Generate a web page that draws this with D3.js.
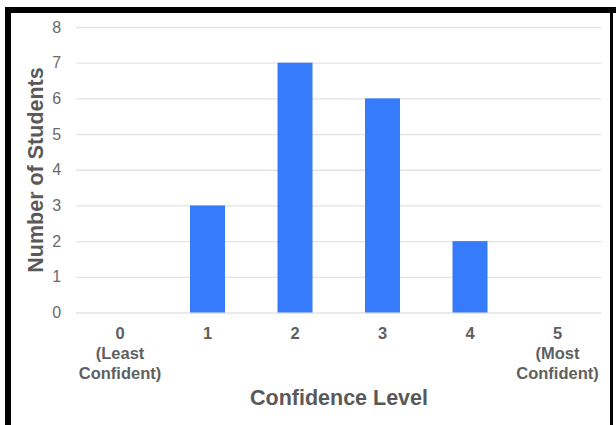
<!DOCTYPE html>
<html>
<head>
<meta charset="utf-8">
<script src="https://cdn.jsdelivr.net/npm/d3@7"></script>
<style>
  html, body { margin: 0; padding: 0; background: #fff; }
  svg { display: block; }
</style>
</head>
<body>
<svg id="chart" width="616" height="425"></svg>
<script>
// Confidence survey: how many students picked each level
const levels = ["0", "1", "2", "3", "4", "5"];
const levelNotes = [["(Least", "Confident)"], [], [], [], [], ["(Most", "Confident)"]];
const students = [0, 3, 7, 6, 2, 0];
const yTicks = [0, 1, 2, 3, 4, 5, 6, 7, 8];

const svg = d3.select("#chart");
const W = 616, H = 425;
const font = "'Liberation Sans', Arial, sans-serif";

// frame
svg.append("rect").attr("x", 0).attr("y", 0).attr("width", W).attr("height", H).attr("fill", "#fff");
svg.append("rect").attr("x", 5).attr("y", 7).attr("width", W - 5).attr("height", 6).attr("fill", "#000");
svg.append("rect").attr("x", 5).attr("y", 7).attr("width", 6).attr("height", H - 7).attr("fill", "#000");
svg.append("rect").attr("x", 610).attr("y", 7).attr("width", 3).attr("height", H - 7).attr("fill", "#000");

const x = d3.scaleBand().domain(levels).range([76.25, 601.25]).paddingInner(0.6).paddingOuter(0.3);
const y = d3.scaleLinear().domain([0, 8]).range([312.5, 27]);

// horizontal gridlines
const yAxis = d3.axisLeft(y).tickValues(yTicks).tickSize(-(601.25 - 76.25)).tickPadding(15).tickFormat(d3.format("d"));
const gy = svg.append("g").attr("transform", "translate(76.25,0)").call(yAxis);
gy.select(".domain").remove();
gy.selectAll(".tick line").attr("stroke", "#e3e3e3").attr("stroke-width", 1.3);
gy.selectAll(".tick text")
  .attr("fill", "#6a6a6a")
  .style("font-family", font)
  .style("font-size", "16px");

// bars
svg.append("g").selectAll("rect").data(students).join("rect")
  .attr("x", (d, i) => x(levels[i]))
  .attr("width", x.bandwidth())
  .attr("y", d => y(d))
  .attr("height", d => y(0) - y(d))
  .attr("fill", "#377bfd");

// category labels
const gx = svg.append("g").attr("transform", "translate(0,312.5)")
  .call(d3.axisBottom(x).tickSize(0).tickPadding(0));
gx.select(".domain").remove();
gx.selectAll(".tick text").remove();
gx.selectAll(".tick").each(function(d, i) {
  const t = d3.select(this).append("text")
    .attr("text-anchor", "middle")
    .attr("fill", "#5f5f5f")
    .style("font-family", font)
    .style("font-size", "16.5px")
    .style("font-weight", "bold");
  [d].concat(levelNotes[i]).forEach((line, k) => {
    t.append("tspan").attr("x", 0).attr("y", 26.5 + k * 20).text(line);
  });
});

// axis titles
svg.append("text")
  .attr("x", 339).attr("y", 405)
  .attr("text-anchor", "middle")
  .attr("fill", "#595959")
  .style("font-family", font)
  .style("font-size", "21.5px")
  .style("font-weight", "bold")
  .text("Confidence Level");

svg.append("text")
  .attr("transform", "translate(43,170) rotate(-90)")
  .attr("text-anchor", "middle")
  .attr("fill", "#595959")
  .style("font-family", font)
  .style("font-size", "21.5px")
  .style("font-weight", "bold")
  .text("Number of Students");
</script>
</body>
</html>
